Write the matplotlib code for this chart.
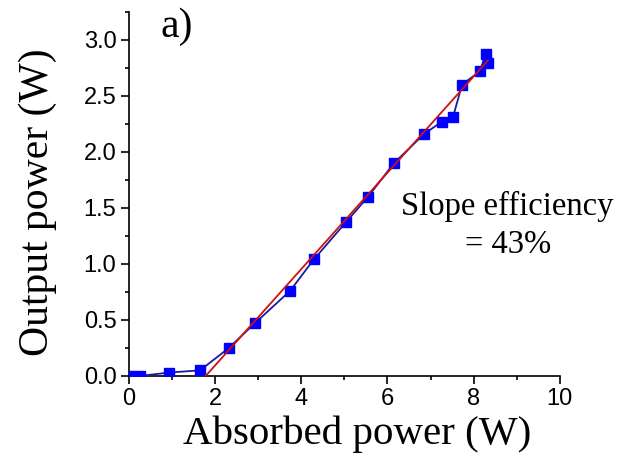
import matplotlib
matplotlib.use("Agg")
import matplotlib.pyplot as plt
from matplotlib.ticker import MultipleLocator

# measured laser output vs absorbed pump power
absorbed = [0.02, 0.26, 0.93, 1.65, 2.32, 2.92, 3.74, 4.29, 5.03, 5.55, 6.15,
            6.85, 7.26, 7.52, 7.73, 8.14, 8.28, 8.33]
output = [0.0, 0.0, 0.03, 0.05, 0.25, 0.47, 0.76, 1.04, 1.37, 1.60, 1.90,
          2.16, 2.27, 2.31, 2.60, 2.72, 2.87, 2.79]

# linear fit, slope 43 %
fit_x = [1.78, 8.33]
slope = 0.43
fit_y = [slope * (x - fit_x[0]) for x in fit_x]

fig = plt.figure(figsize=(6.19, 4.59), dpi=100)
ax = fig.add_axes([0.2084, 0.181, 0.696, 0.793])

ax.plot(absorbed, output, color='#1a1aa0', lw=1.3, marker='s', ms=7.5,
        mfc='#0000ff', mec='#0000ff', zorder=3)
ax.plot(fit_x, fit_y, color='#d01010', lw=1.3, zorder=4)

ax.set_xlim(0, 10)
ax.set_ylim(0, 3.25)
ax.xaxis.set_major_locator(MultipleLocator(2))
ax.xaxis.set_minor_locator(MultipleLocator(1))
ax.yaxis.set_minor_locator(MultipleLocator(0.25))
ax.set_yticks([0, 0.5, 1.0, 1.5, 2.0, 2.5, 3.0])
ax.set_yticklabels(['0.0', '0.5', '1.0', '1.5', '2.0', '2.5', '3.0'])
ax.tick_params(which='major', direction='out', length=6, width=1.2,
               labelsize=17, pad=3)
ax.tick_params(which='minor', direction='out', length=3, width=1.2)
for lab in ax.get_xticklabels() + ax.get_yticklabels():
    lab.set_fontfamily('Liberation Sans')

ax.spines['top'].set_visible(False)
ax.spines['right'].set_visible(False)
ax.spines['left'].set_linewidth(1.2)
ax.spines['bottom'].set_linewidth(1.2)

ax.set_xlabel('Absorbed power (W)', family='Liberation Serif', fontsize=29.5)
ax.set_ylabel('Output power (W)', family='Liberation Serif', fontsize=30)
ax.xaxis.set_label_coords(0.529, -0.11)
ax.yaxis.set_label_coords(-0.167, 0.478)

ax.text(8.77, 1.51, 'Slope efficiency', family='Liberation Serif',
        fontsize=23.5, ha='center', va='center')
ax.text(8.79, 1.17, '= 43%', family='Liberation Serif',
        fontsize=23.5, ha='center', va='center')
ax.text(0.72, 3.115, 'a)', family='Liberation Serif', fontsize=30,
        ha='left', va='center')

plt.savefig('out.png', dpi=100)
